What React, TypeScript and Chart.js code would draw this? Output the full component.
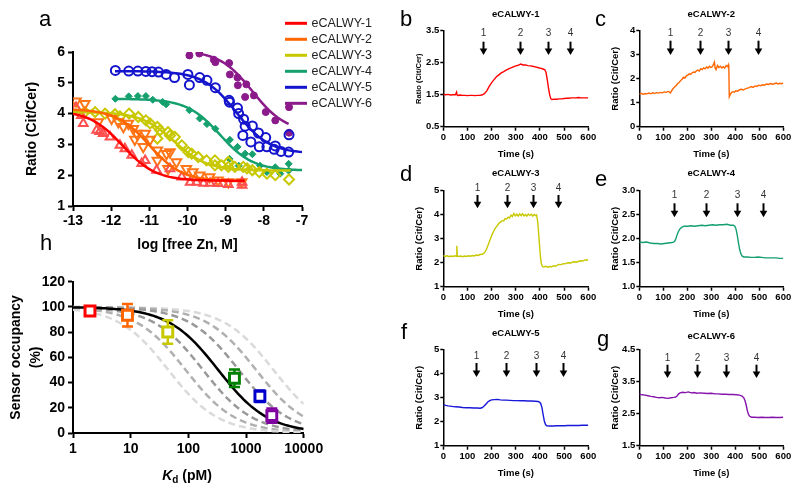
import React, { useEffect, useRef } from "react";
import { Chart, registerables } from "chart.js";

Chart.register(...registerables);

const FONT = "'Liberation Sans', Arial, Helvetica, sans-serif";
Chart.defaults.font.family = FONT;
Chart.defaults.color = "#000";

type Pt = [number, number];

// ---------------- Panel a : titration (log free Zn, ratio) ----------------
const SENSOR_NAMES = ["eCALWY-1", "eCALWY-2", "eCALWY-3", "eCALWY-4", "eCALWY-5", "eCALWY-6"];

const A_RED: Pt[] = [[-12.92, 4.2], [-12.78, 3.94], [-12.73, 3.68], [-12.38, 3.46], [-12.3, 3.42], [-12.21, 3.35], [-12.03, 3.24], [-11.77, 2.97], [-11.64, 2.86], [-11.46, 2.65], [-11.2, 2.38], [-11.11, 2.48], [-10.81, 2.16], [-10.46, 2.21], [-10.15, 1.94], [-9.93, 1.77], [-9.76, 1.77], [-9.58, 1.74], [-9.41, 1.74], [-9.2, 1.73], [-8.93, 1.7], [-8.57, 1.67], [-8.57, 1.77]];
const A_ORANGE: Pt[] = [[-12.92, 4.4], [-12.69, 4.32], [-12.34, 3.73], [-11.99, 3.84], [-11.81, 3.73], [-11.68, 3.57], [-11.55, 3.68], [-11.42, 3.51], [-11.33, 3.35], [-11.11, 3.35], [-11.38, 3.16], [-11.16, 2.92], [-10.98, 3.16], [-10.79, 2.81], [-10.79, 2.48], [-10.55, 2.7], [-10.46, 2.75], [-10.51, 2.21], [-10.29, 2.43], [-10.03, 2.21], [-9.86, 2.1], [-9.68, 2.0], [-9.42, 1.94], [-9.2, 1.84], [-8.93, 1.78], [-8.58, 1.78]];
const A_YELLOW: Pt[] = [[-12.95, 4.16], [-12.69, 4.05], [-12.42, 4.05], [-12.16, 4.0], [-11.9, 3.98], [-11.77, 3.91], [-11.53, 4.0], [-11.29, 3.89], [-11.09, 3.78], [-10.98, 3.68], [-10.79, 3.57], [-10.72, 3.46], [-10.51, 3.4], [-10.79, 3.19], [-10.46, 3.29], [-10.33, 3.24], [-10.15, 2.97], [-9.98, 2.75], [-9.89, 2.7], [-9.72, 2.59], [-9.5, 2.48], [-9.28, 2.48], [-9.28, 2.32], [-9.11, 2.32], [-8.93, 2.43], [-8.93, 2.27], [-8.76, 2.27], [-8.54, 2.27], [-8.44, 2.22], [-8.3, 2.16], [-8.12, 2.1], [-7.92, 2.05], [-7.7, 2.0], [-7.34, 1.86]];
const A_GREEN: Pt[] = [[-11.89, 4.48], [-11.54, 4.56], [-11.3, 4.57], [-11.09, 4.57], [-10.91, 4.45], [-10.65, 4.38], [-10.56, 4.3], [-9.95, 4.11], [-9.68, 3.84], [-9.49, 3.66], [-9.27, 3.51], [-8.89, 3.15], [-8.9, 2.53], [-8.69, 2.92], [-8.66, 2.31], [-8.49, 2.7], [-8.3, 2.68], [-8.1, 2.31], [-7.92, 2.1], [-7.7, 2.26], [-7.57, 2.05], [-7.35, 2.37], [-7.35, 2.15]];
const A_BLUE: Pt[] = [[-11.89, 5.4], [-11.54, 5.38], [-11.3, 5.38], [-11.09, 5.37], [-10.93, 5.36], [-10.76, 5.35], [-10.56, 5.27], [-10.34, 5.17], [-9.99, 5.27], [-9.95, 4.93], [-9.68, 5.17], [-9.49, 5.08], [-9.27, 4.84], [-8.91, 4.43], [-8.9, 4.37], [-8.69, 4.18], [-8.66, 4.0], [-8.53, 3.82], [-8.49, 3.59], [-8.55, 3.29], [-8.3, 3.6], [-8.14, 3.37], [-7.95, 3.22], [-8.34, 3.08], [-8.12, 2.92], [-7.92, 2.92], [-7.73, 2.84], [-7.7, 2.95], [-7.55, 2.77], [-7.35, 2.75], [-7.34, 3.31]];
const A_PURPLE: Pt[] = [[-9.95, 5.89], [-9.69, 5.95], [-9.31, 5.75], [-9.27, 5.67], [-8.91, 5.64], [-8.89, 5.27], [-8.69, 5.17], [-8.68, 4.92], [-8.46, 4.95], [-8.49, 4.54], [-8.26, 4.59], [-7.95, 4.05], [-7.7, 3.78], [-7.34, 4.21], [-7.34, 3.38]];
const A_POINTS = [A_RED, A_ORANGE, A_YELLOW, A_GREEN, A_BLUE, A_PURPLE];

// fitted binding curves (top, bottom, log K, range)
const FIT_TOP = [4.1, 4.15, 4.05, 4.48, 5.38, 6.05];
const FIT_BOTTOM = [1.82, 1.8, 2.15, 2.15, 2.7, 3.4];
const FIT_LOGK = [-11.7, -11.0, -10.35, -9.15, -8.72, -8.3];
const FIT_XMIN = [-13, -13, -13, -11.9, -11.9, -9.75];
const FIT_XMAX = [-8.5, -8.5, -7.3, -7, -7, -7.35];

// styles for panel a
const A_LINE_COLORS = ["#ff0000", "#ff6600", "#c8c800", "#15a06e", "#1414cc", "#8b1a8b"];
const A_MARK_COLORS = ["#ff5050", "#ff7518", "#c8c800", "#15a06e", "#1414cc", "#8b1a8b"];
const A_MARK_STYLE = ["triangle", "triangle", "rectRot", "rectRot", "circle", "circle"];
const A_MARK_ROT = [0, 180, 0, 0, 0, 0];
const A_MARK_RADIUS = [5, 5.5, 5, 3.5, 4.5, 3.5];
const A_MARK_FILLED = [false, false, false, true, false, true];

// ---------------- Panel h : sensor occupancy ----------------
const H_KD = [1.97, 8.8, 44, 630, 1740, 2800];
const H_OCC = [96.8, 93.4, 80.1, 43.5, 29.2, 13.8];
const H_ERR = [1.2, 8.9, 9.3, 6.9, 4.5, 5.6];
const H_COLORS = ["#ff0000", "#ff6600", "#c8c800", "#008000", "#0000cc", "#7f00a0"];
// free Zn (pM) of the theoretical occupancy curves
const H_DASH_ZN = [45, 90, 180, 750, 1500, 3000];
const H_DASH_COLORS = ["#dadada", "#b0b0b0", "#999999", "#999999", "#b0b0b0", "#dadada"];
const H_FIT_ZN = 330;
const H_XTICKS = [1, 10, 100, 1000, 10000];

// ---------------- Panels b-g : time traces ----------------
const ARROW_LABELS = ["1", "2", "3", "4"];

const TRACE_B: Pt[] = [[0, 1.51], [10, 1.5], [20, 1.51], [30, 1.49], [40, 1.5], [50, 1.5], [55, 1.58], [57, 1.49], [60, 1.48], [70, 1.49], [80, 1.48], [90, 1.48], [100, 1.47], [110, 1.48], [120, 1.48], [130, 1.47], [140, 1.48], [150, 1.48], [160, 1.49], [170, 1.53], [180, 1.62], [190, 1.76], [200, 1.88], [210, 1.97], [220, 2.06], [230, 2.12], [240, 2.18], [250, 2.22], [260, 2.27], [270, 2.31], [280, 2.34], [290, 2.37], [300, 2.4], [310, 2.42], [320, 2.46], [330, 2.43], [340, 2.43], [350, 2.41], [360, 2.4], [370, 2.39], [380, 2.37], [390, 2.35], [400, 2.33], [410, 2.31], [420, 2.28], [425, 2.2], [430, 1.98], [435, 1.72], [440, 1.5], [445, 1.37], [450, 1.35], [460, 1.36], [470, 1.36], [480, 1.37], [490, 1.37], [500, 1.38], [510, 1.39], [520, 1.39], [530, 1.4], [540, 1.4], [550, 1.4], [560, 1.41], [570, 1.4], [580, 1.4], [590, 1.4], [600, 1.4]];
const ARROWS_B = [165, 317, 432, 524];

const TRACE_C: Pt[] = [[0, 1.36], [8, 1.39], [16, 1.35], [24, 1.38], [32, 1.37], [40, 1.4], [48, 1.37], [56, 1.41], [64, 1.39], [72, 1.42], [80, 1.4], [88, 1.43], [96, 1.41], [104, 1.45], [112, 1.43], [120, 1.47], [126, 1.44], [130, 1.41], [136, 1.52], [142, 1.6], [148, 1.66], [154, 1.72], [160, 1.8], [166, 1.84], [172, 1.92], [178, 1.98], [184, 2.06], [190, 2.03], [196, 2.12], [202, 2.15], [208, 2.2], [214, 2.18], [220, 2.25], [226, 2.28], [232, 2.26], [238, 2.33], [244, 2.36], [250, 2.32], [256, 2.42], [262, 2.38], [268, 2.45], [274, 2.41], [280, 2.49], [286, 2.44], [292, 2.52], [298, 2.47], [304, 2.5], [310, 2.62], [313, 2.69], [316, 2.45], [320, 2.38], [326, 2.55], [332, 2.47], [338, 2.52], [344, 2.45], [350, 2.5], [356, 2.44], [362, 2.55], [368, 2.5], [371, 2.58], [373, 2.45], [375, 1.25], [378, 1.32], [384, 1.42], [390, 1.46], [396, 1.44], [402, 1.5], [410, 1.48], [418, 1.54], [426, 1.56], [434, 1.53], [442, 1.58], [450, 1.61], [458, 1.63], [466, 1.67], [474, 1.64], [482, 1.7], [490, 1.68], [498, 1.73], [506, 1.71], [514, 1.75], [522, 1.73], [530, 1.78], [538, 1.76], [546, 1.8], [554, 1.77], [562, 1.79], [570, 1.82], [578, 1.78], [586, 1.81], [594, 1.79], [600, 1.83]];
const ARROWS_C = [126, 251, 371, 496];

const TRACE_D: Pt[] = [[0, 2.3], [8, 2.26], [16, 2.29], [24, 2.25], [32, 2.28], [40, 2.26], [48, 2.29], [54, 2.27], [56, 2.71], [58, 2.28], [64, 2.26], [72, 2.28], [80, 2.25], [88, 2.28], [96, 2.26], [104, 2.29], [112, 2.27], [120, 2.3], [128, 2.28], [136, 2.32], [144, 2.3], [152, 2.34], [160, 2.35], [166, 2.38], [172, 2.44], [178, 2.55], [184, 2.7], [190, 2.86], [196, 3.02], [202, 3.18], [208, 3.3], [214, 3.42], [220, 3.5], [226, 3.58], [232, 3.66], [238, 3.7], [244, 3.76], [250, 3.74], [256, 3.84], [262, 3.82], [268, 3.9], [274, 3.86], [280, 3.98], [286, 3.92], [292, 4.05], [298, 3.95], [304, 4.02], [310, 3.94], [316, 4.03], [322, 3.96], [328, 4.04], [334, 3.95], [340, 4.01], [346, 3.94], [352, 4.03], [358, 3.97], [364, 4.02], [370, 3.94], [376, 4.01], [382, 3.96], [386, 3.99], [390, 3.75], [394, 3.3], [398, 2.75], [402, 2.25], [406, 1.95], [410, 1.84], [416, 1.82], [424, 1.85], [432, 1.81], [440, 1.84], [448, 1.83], [456, 1.87], [464, 1.85], [472, 1.9], [480, 1.93], [488, 1.92], [496, 1.96], [504, 1.95], [512, 1.99], [520, 2.0], [528, 1.99], [536, 2.03], [544, 2.04], [552, 2.02], [560, 2.06], [568, 2.08], [576, 2.07], [584, 2.1], [592, 2.12], [600, 2.1]];
const ARROWS_D = [138, 262, 372, 476];

const TRACE_E: Pt[] = [[0, 1.93], [15, 1.92], [30, 1.93], [45, 1.91], [60, 1.9], [75, 1.9], [90, 1.89], [105, 1.9], [120, 1.91], [135, 1.92], [143, 1.93], [148, 1.95], [153, 2.01], [158, 2.09], [163, 2.15], [170, 2.21], [178, 2.24], [186, 2.26], [200, 2.26], [215, 2.27], [230, 2.26], [245, 2.27], [260, 2.28], [275, 2.27], [290, 2.28], [305, 2.29], [320, 2.28], [335, 2.29], [350, 2.29], [365, 2.3], [380, 2.28], [392, 2.28], [398, 2.26], [403, 2.2], [408, 2.08], [413, 1.92], [418, 1.78], [423, 1.69], [428, 1.64], [435, 1.62], [450, 1.62], [465, 1.61], [480, 1.61], [495, 1.62], [510, 1.61], [525, 1.6], [540, 1.6], [555, 1.6], [570, 1.6], [585, 1.59], [600, 1.59]];
const ARROWS_E = [143, 279, 409, 514];

const TRACE_F: Pt[] = [[0, 2.71], [10, 2.68], [20, 2.66], [35, 2.64], [50, 2.62], [65, 2.61], [80, 2.59], [95, 2.58], [110, 2.58], [125, 2.57], [140, 2.57], [152, 2.56], [160, 2.58], [168, 2.64], [176, 2.73], [184, 2.82], [192, 2.88], [200, 2.91], [212, 2.92], [224, 2.93], [236, 2.91], [248, 2.9], [260, 2.9], [275, 2.89], [290, 2.88], [305, 2.88], [320, 2.87], [335, 2.87], [350, 2.86], [365, 2.86], [380, 2.85], [392, 2.84], [398, 2.82], [403, 2.76], [408, 2.6], [413, 2.3], [418, 2.03], [423, 1.88], [428, 1.83], [440, 1.82], [455, 1.82], [470, 1.83], [485, 1.83], [500, 1.83], [515, 1.84], [530, 1.84], [545, 1.84], [560, 1.84], [575, 1.85], [590, 1.85], [600, 1.85]];
const ARROWS_F = [134, 259, 383, 494];

const TRACE_G: Pt[] = [[0, 3.11], [12, 3.09], [24, 3.08], [36, 3.06], [48, 3.04], [60, 3.03], [72, 3.01], [84, 3.0], [96, 3.01], [108, 2.99], [120, 2.98], [132, 3.0], [144, 3.01], [152, 3.02], [158, 3.06], [164, 3.12], [170, 3.15], [180, 3.17], [192, 3.16], [204, 3.18], [216, 3.15], [228, 3.16], [240, 3.14], [255, 3.15], [270, 3.14], [285, 3.13], [300, 3.14], [315, 3.12], [330, 3.12], [345, 3.11], [360, 3.11], [375, 3.1], [390, 3.1], [405, 3.09], [418, 3.08], [428, 3.05], [435, 3.0], [440, 2.92], [445, 2.78], [450, 2.6], [455, 2.48], [460, 2.42], [468, 2.39], [480, 2.39], [495, 2.38], [510, 2.39], [525, 2.38], [540, 2.38], [555, 2.39], [570, 2.38], [585, 2.38], [600, 2.39]];
const ARROWS_G = [115, 240, 362, 486];

// ---------------- helpers ----------------
function axisBase(size: number, tickLen: number, width: number, pad: number) {
  return {
    border: { display: true, color: "#000", width },
    grid: { display: true, drawOnChartArea: false, drawTicks: true, tickLength: tickLen, tickWidth: width, tickColor: "#000", color: "#000" },
    ticks: { color: "#000", font: { family: FONT, size, weight: "bold" }, padding: pad },
  };
}

function fitCurve(i: number) {
  const pts: { x: number; y: number }[] = [];
  const n = 80;
  for (let k = 0; k <= n; k++) {
    const x = FIT_XMIN[i] + ((FIT_XMAX[i] - FIT_XMIN[i]) * k) / n;
    const y = FIT_BOTTOM[i] + (FIT_TOP[i] - FIT_BOTTOM[i]) / (1 + Math.pow(10, x - FIT_LOGK[i]));
    pts.push({ x, y });
  }
  return pts;
}

function occupancyCurve(zn: number) {
  const pts: { x: number; y: number }[] = [];
  const n = 100;
  for (let k = 0; k <= n; k++) {
    const kd = Math.pow(10, (4 * k) / n);
    pts.push({ x: kd, y: 100 / (1 + kd / zn) });
  }
  return pts;
}

// ---------------- chart configs ----------------
function configA(): any {
  const legendPlugin = {
    id: "aLegend",
    afterDraw(chart: any) {
      const ctx = chart.ctx;
      ctx.save();
      SENSOR_NAMES.forEach((name, i) => {
        const y = 23.3 + i * 16;
        ctx.strokeStyle = A_LINE_COLORS[i];
        ctx.lineWidth = 3;
        ctx.beginPath();
        ctx.moveTo(285, y);
        ctx.lineTo(307, y);
        ctx.stroke();
        if (i === 5) {
          ctx.lineWidth = 2;
          ctx.beginPath();
          ctx.moveTo(288.5, y);
          ctx.lineTo(288.5, y + 4);
          ctx.stroke();
          ctx.fillStyle = A_LINE_COLORS[i];
          ctx.beginPath();
          ctx.arc(288.5, y + 4.5, 2.2, 0, Math.PI * 2);
          ctx.fill();
        }
        ctx.fillStyle = "#222";
        ctx.font = `12.5px ${FONT}`;
        ctx.textAlign = "left";
        ctx.textBaseline = "middle";
        ctx.fillText(name, 311.5, y + 0.5);
      });
      ctx.restore();
    },
  };
  const fits = SENSOR_NAMES.map((name, i) => ({
    label: name + " fit",
    data: fitCurve(i),
    showLine: true,
    borderColor: A_LINE_COLORS[i],
    borderWidth: 2.5,
    pointRadius: 0,
    tension: 0,
  }));
  const pts = A_POINTS.map((arr, i) => ({
    label: SENSOR_NAMES[i],
    data: arr.map(([x, y]) => ({ x, y })),
    showLine: false,
    pointStyle: A_MARK_STYLE[i],
    pointRotation: A_MARK_ROT[i],
    pointRadius: A_MARK_RADIUS[i],
    pointBorderWidth: A_MARK_FILLED[i] ? 1 : 2,
    pointBorderColor: A_MARK_COLORS[i],
    pointBackgroundColor: A_MARK_FILLED[i] ? A_MARK_COLORS[i] : "rgba(255,255,255,0)",
  }));
  const xAx: any = axisBase(14, 5, 2, 2);
  const yAx: any = axisBase(14, 5, 2, 3);
  return {
    type: "scatter",
    data: { datasets: [...fits, ...pts] },
    options: {
      responsive: false,
      animation: false,
      events: [],
      layout: { autoPadding: false, padding: { left: 0, right: 98, top: 52, bottom: 0 } },
      plugins: { legend: { display: false }, tooltip: { enabled: false } },
      scales: {
        x: {
          ...xAx,
          type: "linear",
          min: -13,
          max: -7,
          ticks: { ...xAx.ticks, stepSize: 1 },
          title: { display: true, text: "log [free Zn, M]", color: "#000", font: { family: FONT, size: 14, weight: "bold" }, padding: { top: 0, bottom: 1.6 } },
          afterFit: (s: any) => { s.height = 49; },
        },
        y: {
          ...yAx,
          min: 1,
          max: 6,
          ticks: { ...yAx.ticks, stepSize: 1 },
          title: { display: true, text: "Ratio (Cit/Cer)", color: "#000", font: { family: FONT, size: 14, weight: "bold" }, padding: { top: 23.6, bottom: 0 } },
          afterFit: (s: any) => { s.width = 73; },
        },
      },
    },
    plugins: [legendPlugin],
  };
}

function configH(): any {
  const errPlugin = {
    id: "hErr",
    beforeDatasetDraw(chart: any, args: any) {
      if (args.index !== 0) return;
      const ctx = chart.ctx;
      const xs = chart.scales.x;
      const ys = chart.scales.y;
      ctx.save();
      H_KD.forEach((kd, i) => {
        const x = xs.getPixelForValue(kd);
        const y1 = ys.getPixelForValue(H_OCC[i] + H_ERR[i]);
        const y2 = ys.getPixelForValue(H_OCC[i] - H_ERR[i]);
        ctx.strokeStyle = H_COLORS[i];
        ctx.lineWidth = 2.5;
        ctx.beginPath();
        ctx.moveTo(x, y1);
        ctx.lineTo(x, y2);
        ctx.moveTo(x - 5.5, y1);
        ctx.lineTo(x + 5.5, y1);
        ctx.moveTo(x - 5.5, y2);
        ctx.lineTo(x + 5.5, y2);
        ctx.stroke();
      });
      ctx.restore();
    },
  };
  const points = {
    label: "sensors",
    data: H_KD.map((kd, i) => ({ x: kd, y: H_OCC[i] })),
    showLine: false,
    pointStyle: "rect",
    pointRadius: 7,
    pointBorderWidth: 3,
    pointBorderColor: H_COLORS,
    pointBackgroundColor: "#ffffff",
  };
  const dashed = H_DASH_ZN.map((zn, i) => ({
    label: "zn " + zn,
    data: occupancyCurve(zn),
    showLine: true,
    borderColor: H_DASH_COLORS[i],
    borderWidth: 2.5,
    borderDash: [7, 4],
    pointRadius: 0,
    tension: 0,
  }));
  const fit = {
    label: "fit",
    data: occupancyCurve(H_FIT_ZN),
    showLine: true,
    borderColor: "#000",
    borderWidth: 2.5,
    pointRadius: 0,
    tension: 0,
  };
  const xAx: any = axisBase(14, 5, 2, 3);
  const yAx: any = axisBase(14, 5, 2, 3);
  return {
    type: "scatter",
    data: { datasets: [points, fit, ...dashed] },
    options: {
      responsive: false,
      animation: false,
      events: [],
      layout: { autoPadding: false, padding: { left: 0, right: 36.3, top: 26.8, bottom: 0 } },
      plugins: { legend: { display: false }, tooltip: { enabled: false } },
      scales: {
        x: {
          ...xAx,
          type: "logarithmic",
          min: 1,
          max: 10000,
          ticks: { ...xAx.ticks, callback: (v: any) => String(v) },
          afterBuildTicks: (s: any) => { s.ticks = H_XTICKS.map((v) => ({ value: v })); },
          title: { display: false },
          afterFit: (s: any) => { s.height = 59; },
        },
        y: {
          ...yAx,
          min: 0,
          max: 120,
          ticks: { ...yAx.ticks, stepSize: 20 },
          title: { display: true, text: ["Sensor occupancy", "(%)"], color: "#000", font: { family: FONT, size: 14, weight: "bold", lineHeight: 1.43 }, padding: { top: 6, bottom: 0 } },
          afterFit: (s: any) => { s.width = 73; },
        },
      },
    },
    plugins: [errPlugin],
  };
}

interface TraceSpec {
  data: Pt[];
  arrows: number[];
  color: string;
  title: string;
  ymin: number;
  ymax: number;
  step: number;
  dec: number;
  padRight: number;
  ytitleSize: number;
  titleDy: number;
  labDy: number;
  arrTop: number;
  arrTip: number;
}

function configTrace(p: TraceSpec): any {
  const annot = {
    id: "traceAnnot",
    afterDraw(chart: any) {
      const ctx = chart.ctx;
      const a = chart.chartArea;
      const xs = chart.scales.x;
      ctx.save();
      ctx.fillStyle = "#000";
      ctx.font = `bold 9.5px ${FONT}`;
      ctx.textAlign = "center";
      ctx.textBaseline = "middle";
      ctx.fillText(p.title, (a.left + a.right) / 2, a.top + p.titleDy);
      p.arrows.forEach((t, i) => {
        const x = Math.round(xs.getPixelForValue(t)) + 0.5;
        ctx.fillStyle = "#333";
        ctx.font = `10px ${FONT}`;
        ctx.fillText(ARROW_LABELS[i], x, a.top + p.labDy);
        ctx.strokeStyle = "#000";
        ctx.lineWidth = 2;
        ctx.beginPath();
        ctx.moveTo(x, a.top + p.arrTop);
        ctx.lineTo(x, a.top + p.arrTip - 5);
        ctx.stroke();
        ctx.fillStyle = "#000";
        ctx.beginPath();
        ctx.moveTo(x - 3.8, a.top + p.arrTip - 6.5);
        ctx.lineTo(x + 3.8, a.top + p.arrTip - 6.5);
        ctx.lineTo(x, a.top + p.arrTip);
        ctx.closePath();
        ctx.fill();
      });
      ctx.restore();
    },
  };
  const xAx: any = axisBase(9.5, 4, 1.5, 1);
  const yAx: any = axisBase(9.5, 3, 1.5, 1);
  return {
    type: "line",
    data: {
      datasets: [
        {
          data: p.data.map(([x, y]) => ({ x, y })),
          borderColor: p.color,
          borderWidth: 1.4,
          pointRadius: 0,
          tension: 0,
          fill: false,
        },
      ],
    },
    options: {
      responsive: false,
      animation: false,
      events: [],
      layout: { autoPadding: false, padding: { left: 0, right: p.padRight, top: 30.7, bottom: 0 } },
      plugins: { legend: { display: false }, tooltip: { enabled: false } },
      scales: {
        x: {
          ...xAx,
          type: "linear",
          min: 0,
          max: 600,
          ticks: { ...xAx.ticks, stepSize: 100 },
          title: { display: true, text: "Time (s)", color: "#000", font: { family: FONT, size: 9.5, weight: "bold" }, padding: { top: 0, bottom: 5.3 } },
          afterFit: (s: any) => { s.height = 38.3; },
        },
        y: {
          ...yAx,
          min: p.ymin,
          max: p.ymax,
          ticks: { ...yAx.ticks, stepSize: p.step, callback: (v: any) => Number(v).toFixed(p.dec) },
          title: { display: true, text: "Ratio (Cit/Cer)", color: "#000", font: { family: FONT, size: p.ytitleSize, weight: "bold" }, padding: { top: 19 - (p.ytitleSize * 1.2) / 2, bottom: 0 } },
          afterFit: (s: any) => { s.width = 43.3; },
        },
      },
    },
    plugins: [annot],
  };
}

function ChartBox(props: { left: number; top: number; width: number; height: number; make: () => any }) {
  const ref = useRef<HTMLCanvasElement | null>(null);
  useEffect(() => {
    const chart = new Chart(ref.current as HTMLCanvasElement, props.make());
    return () => chart.destroy();
  }, []);
  return (
    <canvas
      ref={ref}
      width={props.width}
      height={props.height}
      style={{ position: "absolute", left: props.left, top: props.top, width: props.width, height: props.height }}
    />
  );
}

function Letter(props: { ch: string; left: number; baseline: number }) {
  return (
    <div
      style={{
        position: "absolute",
        left: props.left,
        top: props.baseline - 18.6,
        fontSize: 22,
        lineHeight: "22px",
        fontFamily: FONT,
        color: "#000",
      }}
    >
      {props.ch}
    </div>
  );
}

const LEFT_W = 200;
const RIGHT_W = 204;

export default function App() {
  const traces: { left: number; top: number; width: number; spec: TraceSpec }[] = [
    { left: 400, top: 0, width: LEFT_W, spec: { data: TRACE_B, arrows: ARROWS_B, color: "#ff0000", title: "eCALWY-1", ymin: 0.5, ymax: 3.5, step: 1, dec: 1, padRight: 11.7, ytitleSize: 7.5, titleDy: -16.7, labDy: 2.6, arrTop: 11, arrTip: 24.3 } },
    { left: 596, top: 0, width: RIGHT_W, spec: { data: TRACE_C, arrows: ARROWS_C, color: "#ff6600", title: "eCALWY-2", ymin: 0, ymax: 4, step: 1, dec: 0, padRight: 16.7, ytitleSize: 9.5, titleDy: -16.7, labDy: 2.6, arrTop: 10, arrTip: 24.3 } },
    { left: 400, top: 160, width: LEFT_W, spec: { data: TRACE_D, arrows: ARROWS_D, color: "#c8c800", title: "eCALWY-3", ymin: 1, ymax: 5, step: 1, dec: 0, padRight: 11.7, ytitleSize: 9.5, titleDy: -17.4, labDy: -2.4, arrTop: 4.3, arrTip: 17.6 } },
    { left: 596, top: 160, width: RIGHT_W, spec: { data: TRACE_E, arrows: ARROWS_E, color: "#13a06e", title: "eCALWY-4", ymin: 1, ymax: 3, step: 0.5, dec: 1, padRight: 16.7, ytitleSize: 9.5, titleDy: -17.4, labDy: 4.3, arrTop: 12.6, arrTip: 26.6 } },
    { left: 400, top: 319.3, width: LEFT_W, spec: { data: TRACE_F, arrows: ARROWS_F, color: "#1818d8", title: "eCALWY-5", ymin: 1, ymax: 5, step: 1, dec: 0, padRight: 11.7, ytitleSize: 9.5, titleDy: -16.7, labDy: 6.7, arrTop: 13.3, arrTip: 27.3 } },
    { left: 596, top: 319.3, width: RIGHT_W, spec: { data: TRACE_G, arrows: ARROWS_G, color: "#8514ad", title: "eCALWY-6", ymin: 1.5, ymax: 4.5, step: 1, dec: 1, padRight: 16.7, ytitleSize: 9.5, titleDy: -13.3, labDy: 8.3, arrTop: 15, arrTip: 28.3 } },
  ];
  return (
    <div style={{ position: "fixed", left: 0, top: 0, width: 800, height: 492, background: "#fff", overflow: "hidden" }}>
      <ChartBox left={0} top={0} width={400} height={255} make={configA} />
      <ChartBox left={0} top={255} width={340} height={237} make={configH} />
      {traces.map((t, i) => (
        <ChartBox key={i} left={t.left} top={t.top} width={t.width} height={165} make={() => configTrace(t.spec)} />
      ))}
      <div
        style={{
          position: "absolute",
          left: 0,
          width: 374,
          top: 467,
          textAlign: "center",
          fontFamily: FONT,
          fontWeight: "bold",
          fontSize: 14,
          lineHeight: "16px",
          color: "#000",
        }}
      >
        <i>K</i>
        <span style={{ fontSize: 10, verticalAlign: -3 }}>d</span> (pM)
      </div>
      <Letter ch="a" left={39} baseline={27} />
      <Letter ch="h" left={40} baseline={251} />
      <Letter ch="b" left={400} baseline={27} />
      <Letter ch="c" left={595} baseline={27} />
      <Letter ch="d" left={400} baseline={182} />
      <Letter ch="e" left={595} baseline={187} />
      <Letter ch="f" left={401} baseline={340} />
      <Letter ch="g" left={597} baseline={347} />
    </div>
  );
}
